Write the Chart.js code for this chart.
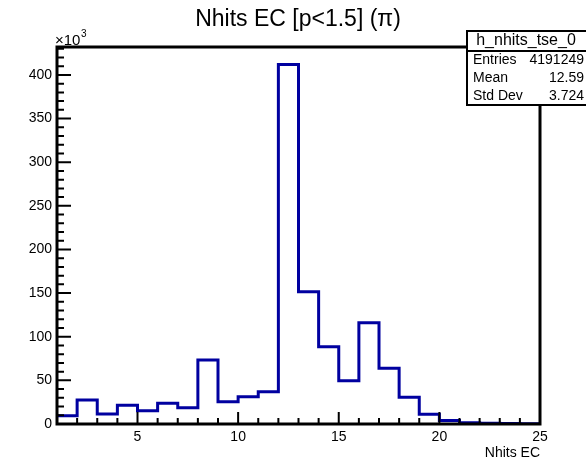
<!DOCTYPE html>
<html>
<head>
<meta charset="utf-8">
<script src="https://cdn.jsdelivr.net/npm/chart.js@4/dist/chart.umd.min.js"></script>
<style>
  html, body { margin: 0; padding: 0; background: #fff; }
  canvas { display: block; }
</style>
</head>
<body>
<canvas id="myChart" width="586" height="462"></canvas>
<script>
// bin low edges (Nhits EC), width 1
const binLow = [1, 2, 3, 4, 5, 6, 7, 8, 9, 10, 11, 12, 13, 14, 15, 16, 17, 18, 19, 20, 21, 22, 23, 24];
const binWidth = 1;
// counts in units of 10^3
const counts = [9.5, 27.5, 11.5, 21.4, 15.3, 23.7, 18.7, 73.4, 25.6, 31.3, 37, 412, 151.6, 88.6, 49.6, 116, 63.8, 30.6, 11.1, 4, 1.5, 1, 0.5, 0.2];
const xTicks = [5, 10, 15, 20, 25];
const yTicks = [0, 50, 100, 150, 200, 250, 300, 350, 400];
const statNames = ['Entries', 'Mean', 'Std Dev'];
const statValues = ['4191249', '12.59', '3.724'];

const FONT = '"Liberation Sans", Arial, Helvetica, sans-serif';

// histogram outline points: one at each low edge + closing edge
var pts = binLow.map((x, i) => ({ x: x, y: counts[i] }));
pts.push({ x: binLow[binLow.length - 1] + binWidth, y: counts[counts.length - 1] });

const rootStyle = {
  id: 'rootStyle',
  afterDatasetsDraw(chart) {
    const ctx = chart.ctx;
    const a = chart.chartArea;
    const xs = chart.scales.x, ys = chart.scales.y;
    ctx.save();
    ctx.strokeStyle = '#000';
    ctx.lineWidth = 3;
    ctx.strokeRect(a.left, a.top, a.right - a.left, a.bottom - a.top);

    // x ticks, inward: major every 5, minor every 1
    ctx.lineWidth = 2;
    ctx.beginPath();
    for (let v = xs.min; v <= xs.max; v += 1) {
      const px = xs.getPixelForValue(v);
      const len = (v % 5 === 0) ? 12 : 6;
      ctx.moveTo(px, a.bottom);
      ctx.lineTo(px, a.bottom - len);
    }
    // y ticks: major every 50, minor every 10
    for (let v = 0; v <= ys.max; v += 10) {
      const py = ys.getPixelForValue(v);
      const len = (v % 50 === 0) ? 14 : 7;
      ctx.moveTo(a.left, py);
      ctx.lineTo(a.left + len, py);
    }
    ctx.stroke();

    ctx.fillStyle = '#000';
    // exponent label
    ctx.font = '15px ' + FONT;
    ctx.textAlign = 'left';
    ctx.textBaseline = 'alphabetic';
    ctx.fillText('\u00d710', 55, 45);
    const w = ctx.measureText('\u00d710').width;
    ctx.font = '10px ' + FONT;
    ctx.fillText('3', 55 + w + 0.5, 37);

    // title
    ctx.font = '23px ' + FONT;
    ctx.textAlign = 'center';
    ctx.fillText('Nhits EC [p<1.5] (\u03c0)', 298, 26);

    // x axis title
    ctx.font = '14px ' + FONT;
    ctx.textAlign = 'right';
    ctx.fillText('Nhits EC', a.right, 457);

    // stats box
    const bx = 467, by = 31, bw = 121, bh = 74;
    ctx.fillStyle = '#fff';
    ctx.fillRect(bx, by, bw, bh);
    ctx.lineWidth = 2;
    ctx.strokeRect(bx, by, bw, bh);
    ctx.beginPath();
    ctx.moveTo(bx, 51);
    ctx.lineTo(bx + bw, 51);
    ctx.stroke();
    ctx.fillStyle = '#000';
    ctx.textBaseline = 'middle';
    ctx.font = '16px ' + FONT;
    ctx.textAlign = 'center';
    ctx.fillText('h_nhits_tse_0', 526, 41);
    ctx.font = '14px ' + FONT;
    const rowY = [60, 78.5, 96.5];
    statNames.forEach((n, i) => {
      ctx.textAlign = 'left';
      ctx.fillText(n, 473, rowY[i]);
      ctx.textAlign = 'right';
      ctx.fillText(statValues[i], 584, rowY[i]);
    });
    ctx.restore();
  }
};

var ctx = document.getElementById('myChart').getContext('2d');
var myChart = new Chart(ctx, {
  type: 'line',
  data: {
    datasets: [{
      data: pts,
      stepped: true,
      fill: false,
      borderColor: '#0000a0',
      borderWidth: 3,
      pointRadius: 0,
      tension: 0
    }]
  },
  options: {
    responsive: false,
    animation: false,
    layout: { padding: { left: 0, top: 47, right: 46, bottom: 0 } },
    plugins: {
      legend: { display: false },
      tooltip: { enabled: false },
      title: { display: false }
    },
    scales: {
      x: {
        type: 'linear',
        min: 1,
        max: 25,
        afterBuildTicks: s => { s.ticks = xTicks.map(v => ({ value: v })); },
        afterFit: s => { s.height = 38; },
        grid: { display: false, drawTicks: false },
        border: { display: false },
        ticks: {
          autoSkip: false,
          maxRotation: 0,
          padding: 5,
          color: '#000',
          font: { family: FONT, size: 14 }
        }
      },
      y: {
        min: 0,
        max: 432,
        afterBuildTicks: s => { s.ticks = yTicks.map(v => ({ value: v })); },
        afterFit: s => { s.width = 57; },
        grid: { display: false, drawTicks: false },
        border: { display: false },
        ticks: {
          autoSkip: false,
          padding: 5,
          color: '#000',
          font: { family: FONT, size: 14 }
        }
      }
    }
  },
  plugins: [rootStyle]
});
</script>
</body>
</html>
